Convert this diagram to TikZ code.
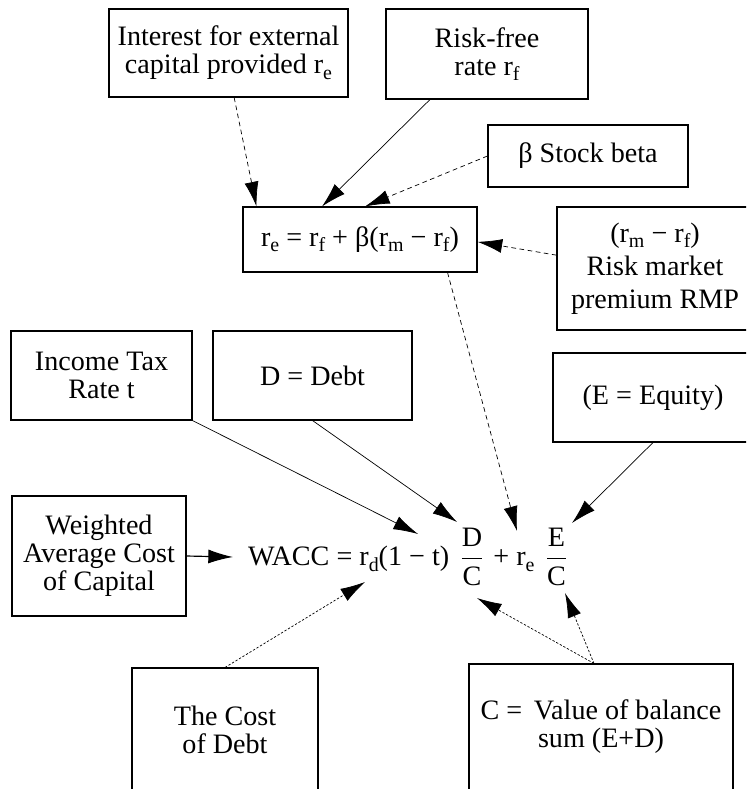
\documentclass[tikz,border=0pt]{standalone}
\usepackage{fontspec}
\setmainfont{Liberation Serif}
\usetikzlibrary{arrows.meta}
\newcommand{\lowsub}[1]{\raisebox{-0.4ex}{\fontsize{17}{17}\selectfont #1}}
\begin{document}
\begin{tikzpicture}[x=0.03cm,y=-0.03cm,
  every node/.style={font=\fontsize{24}{24}\selectfont},
  box/.style={draw,line width=0.9pt,align=center,inner sep=2pt},
  solidarrow/.style={line width=0.6pt,-{Latex[length=0.74cm,width=0.42cm]}},
  dasharrow/.style={solidarrow,dash pattern=on 4pt off 3pt},
  dotarrow/.style={solidarrow,dash pattern=on 2pt off 1.5pt}]
\useasboundingbox (0,0) rectangle (746,789);
\clip (0,0) rectangle (746,789);
\node[box,minimum width=7.17cm,minimum height=2.64cm] (interest) at (228.5,53) {Interest for external\\capital provided r\lowsub{e}};
\node[box,minimum width=6.06cm,minimum height=2.7cm] (riskfree) at (487,54) {Risk-free\\rate r\lowsub{f}};
\node[box,minimum width=6cm,minimum height=1.86cm] (beta) at (588,156) {β Stock beta};
\node[box,minimum width=7.02cm,minimum height=1.95cm] (re) at (360,239.5) {r\lowsub{e} = r\lowsub{f} + β(r\lowsub{m} − r\lowsub{f})};
\node[box,minimum width=5.88cm,minimum height=3.69cm,font=\fontsize{24}{28}\selectfont] (rmp) at (655,268.5) {(r\lowsub{m} − r\lowsub{f})\\Risk market\\premium RMP};
\node[box,minimum width=5.43cm,minimum height=2.67cm] (tax) at (101.5,375.5) {Income Tax\\Rate t};
\node[box,minimum width=5.97cm,minimum height=2.67cm] (debt) at (312.5,375.5) {D = Debt};
\node[box,minimum width=6cm,minimum height=2.67cm] (equity) at (653,397.5) {(E = Equity)};
\node[box,minimum width=5.22cm,minimum height=3.6cm] (wacclabel) at (99,556) {Weighted\\Average Cost\\of Capital};
\node[anchor=west,inner xsep=0.45cm,inner ysep=0pt] (wacc) at (233,557) {WACC = r\lowsub{d}(1 − t)\hspace{0.15em} $\displaystyle\frac{\mbox{D}}{\mbox{C}}$\hspace{0.1em} + r\lowsub{e}\hspace{0.15em} $\displaystyle\frac{\mbox{E}}{\mbox{C}}$};
\node[box,minimum width=5.58cm,minimum height=3.72cm] (costdebt) at (225,730) {The Cost\\of Debt};
\node[box,minimum width=7.92cm,minimum height=3.78cm] (csum) at (601,727) {C =\, Value of balance\\sum (E+D)};
\coordinate (tipTax) at (418,534);
\coordinate (tipDebt) at (457,522);
\coordinate (tipRe) at (517,531);
\coordinate (tipEq) at (572,523);
\coordinate (tipCd) at (365,582);
\coordinate (tipDC) at (477,598);
\coordinate (tipEC) at (565,593);
\draw[dasharrow] ([xshift=0.17cm]interest.south) -- ([xshift=0.42cm]re.north west);
\draw[solidarrow] ([xshift=-1.71cm]riskfree.south) -- ([xshift=-1.14cm]re.north);
\draw[dasharrow] (beta.west) -- ([xshift=0.15cm]re.north);
\draw[dasharrow] ([yshift=0.4cm]rmp.west) -- ([yshift=-0.07cm]re.east);
\draw[dasharrow] ([xshift=-0.9cm]re.south east) -- (tipRe);
\draw[solidarrow] (tax.south east) -- (tipTax);
\draw[solidarrow] (debt.south) -- (tipDebt);
\draw[solidarrow] (equity.south) -- (tipEq);
\draw[solidarrow,line width=1pt] (wacclabel.east) -- (wacc.west);
\draw[dotarrow] (costdebt.north) -- (tipCd);
\draw[dotarrow] ([xshift=-0.21cm]csum.north) -- (tipDC);
\draw[dotarrow] ([xshift=-0.21cm]csum.north) -- (tipEC);
\end{tikzpicture}
\end{document}
